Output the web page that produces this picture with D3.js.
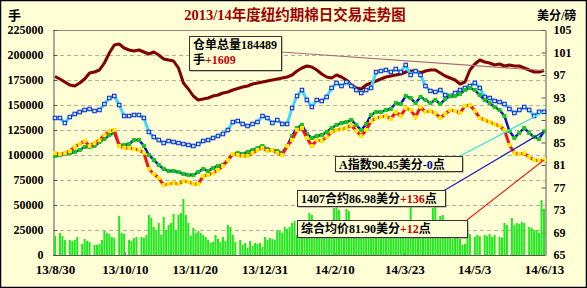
<!DOCTYPE html>
<html>
<head>
<meta charset="utf-8">
<script src="https://cdn.jsdelivr.net/npm/d3@7"></script>
<style>
  body { margin: 0; background: #fff; }
  svg text { font-weight: bold; }
</style>
</head>
<body>
<svg width="587" height="288"></svg>
<script>
// 日成交量（手），每个交易日一根柱
var volume = [
  19000,0,22000,19000,15000,0,15000,14000,15000,18000,
  0,11000,16000,14000,13000,0,10000,10000,11000,15000,
  24000,22000,21000,18000,17000,0,39000,22000,21000,0,
  15000,14000,17000,18000,0,18000,17000,20000,40000,37000,
  28000,25000,32000,20000,38000,25000,30000,32000,41000,25000,
  40000,42000,56000,40000,32000,19000,27000,22000,24000,22000,
  20000,18000,15000,12000,13000,20000,16000,13000,18000,14000,
  30000,28000,20000,13000,0,15000,10000,12000,7000,14000,
  9000,12000,11000,12000,8000,18000,15000,17000,16000,15000,
  25000,24000,22000,28000,26000,28000,32000,34000,20000,22000,
  18000,25000,20000,42000,40000,22000,20000,24000,19000,23000,
  18000,21000,23000,47000,48000,45000,19000,22000,46000,44000,
  24000,18000,21000,19000,23000,17000,20000,22000,18000,21000,
  19000,24000,20000,17000,22000,19000,21000,18000,20000,23000,
  19000,25000,21000,18000,49000,20000,17000,19000,22000,18000,
  26000,20000,22000,47000,48000,21000,39000,40000,20000,17000,
  19000,16000,18000,17000,16000,10000,11000,22000,21000,0,
  18000,20000,19000,0,20000,19000,21000,18000,20000,0,
  18000,17000,32000,30000,0,37000,30000,32000,31000,33000,
  32000,0,28000,27000,25000,25000,22000,55000,46000
];

// 以下曲线每两个交易日取一点
var stock = [
  178500,176000,173000,170000,169000,172000,176000,182000,183000,185000,
  192000,202000,210000,211000,207000,205000,204000,205000,203000,201000,
  203000,200000,196000,195000,194000,187000,172000,166000,159000,155000,
  156000,157000,159000,160000,162000,163000,165000,166500,168000,169000,
  171000,172000,173000,174000,175000,176000,177000,178000,180000,184000,
  187000,189000,188000,185000,181000,178000,177000,180000,178000,175000,
  170000,167000,166000,170000,172000,174000,176000,178000,179000,180000,
  181000,183000,184000,184000,182000,184000,185000,185000,182000,179000,
  177000,175000,171000,173000,185000,191000,195000,193000,192000,190000,
  191000,189000,190000,189000,189000,187000,185000,183000,182880,184489
];

var aIndex = [
  89.36,89.36,88.47,89.53,90.07,90.42,90.78,90.96,90.60,90.78,
  91.84,92.91,93.27,91.67,89.71,89.71,89.89,89.89,89.36,86.87,
  85.98,85.44,84.91,85.27,85.09,84.91,84.73,84.56,84.38,84.73,
  85.27,85.44,85.80,86.16,86.51,87.22,88.64,88.82,88.29,87.93,
  88.29,88.64,89.71,89.36,88.47,89.00,88.29,88.29,91.13,93.27,
  94.33,92.56,91.31,92.56,92.38,93.09,94.69,95.58,95.04,95.76,
  95.04,94.33,93.80,94.33,94.69,97.53,97.71,97.89,97.53,98.07,
  97.53,98.78,97.00,97.71,97.00,95.04,94.16,93.98,94.33,93.44,
  93.27,93.80,94.33,94.69,95.04,95.58,94.69,93.09,92.91,92.38,
  92.20,91.84,90.96,90.24,90.78,91.31,90.78,89.71,90.45,90.45
];

var c1407 = [
  82.60,82.78,82.96,83.13,83.31,83.67,84.20,84.20,84.38,85.09,
  85.62,86.33,86.69,84.56,84.56,84.73,85.44,85.44,84.38,82.78,
  81.89,81.00,80.29,79.93,79.93,79.76,79.40,79.22,79.22,79.76,
  80.29,79.93,80.47,80.82,81.00,81.89,82.96,83.13,82.96,83.31,
  83.67,84.02,84.38,83.84,83.67,83.49,83.13,84.38,86.16,87.58,
  88.11,86.51,85.80,86.16,86.33,86.87,87.58,88.11,88.47,88.64,
  89.00,88.11,87.22,88.29,89.89,90.42,90.42,90.78,90.96,92.02,
  91.84,93.27,92.91,92.02,93.09,92.56,92.02,92.56,91.84,92.73,
  93.27,93.27,93.62,94.33,94.69,94.33,93.44,92.56,92.02,91.31,
  90.78,89.71,87.04,85.80,86.69,87.58,86.69,85.98,85.62,86.98
];

var composite = [
  83.13,82.96,83.13,83.49,84.20,84.73,85.27,84.38,84.91,85.44,
  86.33,87.04,87.22,84.38,84.02,84.02,83.84,83.67,83.13,80.29,
  79.40,78.69,77.44,77.62,77.80,77.62,78.16,77.98,77.62,77.62,
  79.04,79.22,79.58,80.11,80.82,81.89,82.96,82.78,82.60,82.60,
  83.13,83.67,84.02,83.49,83.67,83.13,82.78,84.38,85.44,87.22,
  87.58,85.80,84.38,85.44,85.27,85.98,86.87,87.22,87.40,87.58,
  88.11,87.04,86.16,87.22,88.82,89.36,89.53,89.71,89.18,90.42,
  89.71,91.13,90.78,89.53,91.31,90.42,90.60,90.24,89.36,90.07,
  90.78,90.60,90.24,91.49,91.67,90.60,89.36,89.00,88.64,88.29,
  87.93,87.22,84.56,83.13,82.96,83.13,82.42,81.89,81.78,81.90
];

var xLabels = ["13/8/30", "13/10/10", "13/11/20", "13/12/31", "14/2/10", "14/3/23", "14/5/3", "14/6/13"];
var leftTicks = [0, 25000, 50000, 75000, 100000, 125000, 150000, 175000, 200000, 225000];
var rightTicks = [65, 69, 73, 77, 81, 85, 89, 93, 97, 101, 105];

var svg = d3.select("svg");
var W = 587, H = 288;
var plot = {left: 53, right: 545, top: 30, bottom: 255};
var numFont = "'Liberation Serif', 'Noto Serif CJK SC', 'Noto Sans CJK SC', serif";
var cjkFont = "'Liberation Serif', 'Noto Sans CJK SC', serif";

var nDays = volume.length;
var x = d3.scaleLinear().domain([0, nDays - 1]).range([55, 544]);
var yL = d3.scaleLinear().domain([0, 225000]).range([plot.bottom, plot.top]);
var yR = d3.scaleLinear().domain([65, 105]).range([plot.bottom, plot.top]);
var step = (nDays - 1) / (stock.length - 1);
function xs(d, i) { return x(i * step); }

// 背景与外框
svg.append("rect").attr("x", 0).attr("y", 0).attr("width", W).attr("height", H).attr("fill", "#ffffd6");
svg.append("rect").attr("x", 0.5).attr("y", 0.5).attr("width", W - 1).attr("height", H - 1)
    .attr("fill", "none").attr("stroke", "#000").attr("stroke-width", 1.5);

// 网格
svg.append("g").selectAll("line")
    .data(leftTicks.slice(1, -1))
  .enter().append("line")
    .attr("x1", plot.left).attr("x2", plot.right)
    .attr("y1", function(d) { return Math.round(yL(d)) + 0.5; })
    .attr("y2", function(d) { return Math.round(yL(d)) + 0.5; })
    .attr("stroke", "#b4b09a").attr("stroke-dasharray", "4,3");
svg.append("line").attr("x1", plot.left).attr("x2", plot.right)
    .attr("y1", plot.top + 0.5).attr("y2", plot.top + 0.5).attr("stroke", "#8c8c80");

// 坐标轴
function styleAxis(g, size) {
  g.attr("font-family", numFont).attr("font-size", size).attr("font-weight", "bold");
  g.selectAll("text").attr("fill", "#000");
  g.selectAll("line").attr("stroke", "#555");
  g.select(".domain").attr("stroke", "#555");
}
svg.append("g")
    .attr("transform", "translate(" + (plot.left + 0.5) + ",0)")
    .call(d3.axisLeft(yL).tickValues(leftTicks).tickFormat(d3.format("d"))
        .tickSizeInner(-4).tickSizeOuter(0).tickPadding(10))
    .call(styleAxis, 12);
svg.append("g")
    .attr("transform", "translate(" + (plot.right + 0.5) + ",0)")
    .call(d3.axisRight(yR).tickValues(rightTicks).tickFormat(d3.format("d"))
        .tickSizeInner(-4).tickSizeOuter(0).tickPadding(8))
    .call(styleAxis, 12);
svg.append("g")
    .attr("transform", "translate(0," + (plot.bottom + 0.5) + ")")
    .call(d3.axisBottom(x)
        .tickValues(xLabels.map(function(d, i) { return i * (nDays - 1) / (xLabels.length - 1); }))
        .tickFormat(function(d, i) { return xLabels[i]; })
        .tickSizeInner(-3).tickSizeOuter(0).tickPadding(9))
    .call(styleAxis, 13)
    .select(".domain").attr("d", "M" + plot.left + ",0H" + plot.right);

// 成交量柱
svg.append("g").selectAll("rect")
    .data(volume)
  .enter().append("rect")
    .attr("x", function(d, i) { return x(i) - 1; })
    .attr("width", 2)
    .attr("y", function(d) { return yL(d); })
    .attr("height", function(d) { return plot.bottom - yL(d); })
    .attr("fill", "#1fe81f");

// 仓单总量
svg.append("path")
    .datum(stock)
    .attr("fill", "none").attr("stroke", "#800000").attr("stroke-width", 3).attr("stroke-linejoin", "round")
    .attr("d", d3.line().x(xs).y(function(d) { return yL(d); }));

function priceSeries(data, lineColor, lineWidth, markFill, markStroke, size) {
  var g = svg.append("g");
  g.append("path")
      .datum(data)
      .attr("fill", "none").attr("stroke", lineColor).attr("stroke-width", lineWidth)
      .attr("d", d3.line().x(xs).y(function(d) { return yR(d); }));
  g.selectAll("rect")
      .data(data)
    .enter().append("rect")
      .attr("x", function(d, i) { return xs(d, i) - size / 2; })
      .attr("y", function(d) { return yR(d) - size / 2; })
      .attr("width", size).attr("height", size)
      .attr("fill", markFill)
      .attr("stroke", markStroke).attr("stroke-width", markStroke === "none" ? 0 : 1);
}
priceSeries(aIndex, "#3cd8ff", 3, "#c8f4ff", "#0a1ed2", 3.5);
priceSeries(c1407, "#0a14d0", 2.5, "#18c818", "none", 4);
priceSeries(composite, "#ff1010", 3, "#ffea00", "none", 4);

// 标注框
var last = stock.length - 1;
var notes = [
  {box: [189, 36, 92, 34], from: [281, 52], to: [xs(0, last), yL(stock[last])], color: "#a86878",
   lines: [[["仓单总量184489", "#000"]], [["手", "#000"], ["+1609", "#cc0000"]]]},
  {box: [335, 156, 127, 15], from: [460, 156], to: [xs(0, last), yR(aIndex[last])], color: "#40e0e0",
   lines: [[["A指数90.45美分", "#000"], ["-0", "#000099"], ["点", "#000"]]]},
  {box: [297, 190, 148, 16], from: [440, 193], to: [xs(0, last), yR(c1407[last])], color: "#2020c0",
   lines: [[["1407合约86.98美分", "#000"], ["+136", "#cc0000"], ["点", "#000"]]]},
  {box: [297, 220, 170, 17], from: [467, 220], to: [xs(0, last), yR(composite[last])], color: "#ee2020",
   lines: [[["综合均价81.90美分", "#000"], ["+12", "#cc0000"], ["点", "#000"]]]}
];

notes.forEach(function(n) {
  svg.append("line")
      .attr("x1", n.from[0]).attr("y1", n.from[1]).attr("x2", n.to[0]).attr("y2", n.to[1])
      .attr("stroke", n.color).attr("stroke-width", 1.2);
  svg.append("rect")
      .attr("x", n.box[0] + 1.5).attr("y", n.box[1] + 1.5).attr("width", n.box[2]).attr("height", n.box[3])
      .attr("fill", "#8a8a80");
  svg.append("rect")
      .attr("x", n.box[0] + 0.5).attr("y", n.box[1] + 0.5).attr("width", n.box[2]).attr("height", n.box[3])
      .attr("fill", "#ffffd6").attr("stroke", "#333").attr("stroke-width", 1);
  n.lines.forEach(function(parts, li) {
    var t = svg.append("text")
        .attr("x", n.box[0] + 4)
        .attr("y", n.box[1] + 13 + li * 15)
        .attr("font-family", cjkFont).attr("font-size", 12);
    parts.forEach(function(p) {
      t.append("tspan").attr("fill", p[1]).text(p[0]);
    });
  });
});

// 标题与单位
svg.append("text")
    .attr("x", 295).attr("y", 20).attr("text-anchor", "middle")
    .attr("font-family", cjkFont).attr("font-size", 14.5).attr("fill", "#a00000")
    .text("2013/14年度纽约期棉日交易走势图");
svg.append("text")
    .attr("x", 8).attr("y", 20)
    .attr("font-family", cjkFont).attr("font-size", 13).attr("fill", "#000")
    .text("手");
svg.append("text")
    .attr("x", 537).attr("y", 20)
    .attr("font-family", cjkFont).attr("font-size", 12).attr("fill", "#000")
    .text("美分/磅");
</script>
</body>
</html>
